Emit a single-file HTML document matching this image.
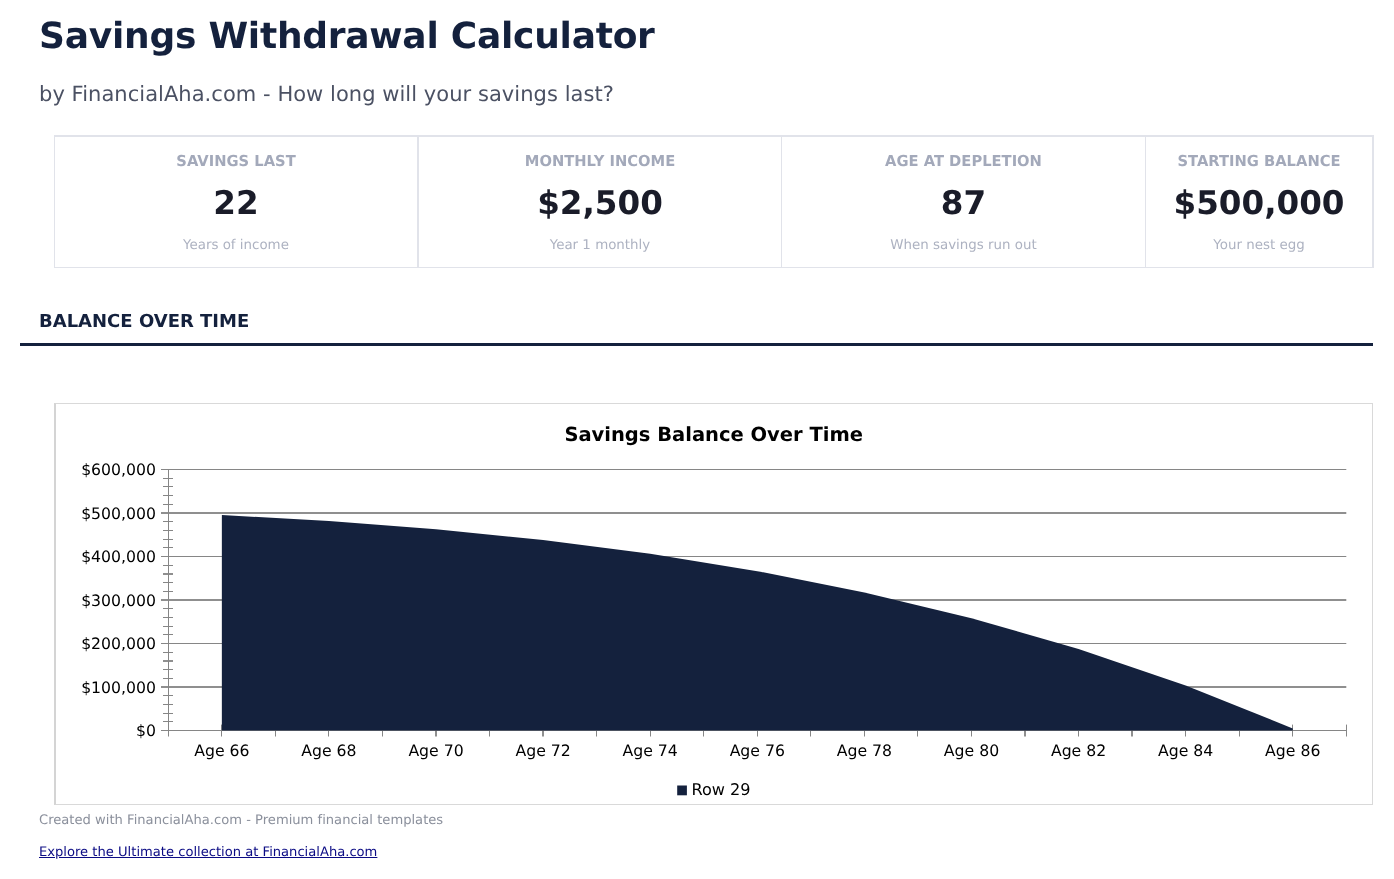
<!DOCTYPE html>
<html><head><meta charset="utf-8"><title>Savings Withdrawal Calculator</title>
<style>
html,body{margin:0;padding:0;background:#fff;}
body{text-rendering:geometricPrecision;width:1394px;height:879px;position:relative;overflow:hidden;font-family:"DejaVu Sans","Liberation Sans",sans-serif;}
.abs{position:absolute;white-space:nowrap;line-height:1;}
h1{position:absolute;margin:0;left:39px;top:15.8px;font-size:36px;line-height:42px;font-weight:bold;color:#14213d;white-space:nowrap;letter-spacing:-0.25px;}
.sub{left:39px;top:82px;font-size:21px;line-height:24px;color:#4b5163;letter-spacing:0.045px;}
.cards{position:absolute;left:54px;top:135px;width:1320px;height:133px;box-sizing:border-box;border-style:solid;border-color:#e1e3ea;border-width:2px 2px 1px 1px;}
.card{position:absolute;top:-1px;height:132px;text-align:center;}
.dv{position:absolute;top:0;height:130px;background:#e1e3ea;}
.card .l{position:absolute;left:0;right:0;top:16.6px;font-size:15.1px;line-height:17px;font-weight:bold;color:#a3a9ba;transform:scaleX(0.975);}
.card .v{position:absolute;left:0;right:0;top:47.5px;font-size:32.6px;line-height:38px;font-weight:bold;color:#1a1c29;}
.card .n{position:absolute;left:0;right:0;top:101.5px;font-size:13.4px;line-height:15px;color:#adb2c1;}
.sec{left:39px;top:311px;font-size:18px;line-height:21px;font-weight:bold;color:#14213d;}
.rule{position:absolute;left:20px;top:343px;width:1353px;height:3px;background:#14213d;}
.chart{position:absolute;left:54px;top:403px;width:1319px;height:402px;box-sizing:border-box;border:1px solid #d9d9d9;border-left:2px solid #d4d4d4;}
.foot{left:39px;top:812.7px;font-size:13.1px;line-height:16px;color:#8b909c;letter-spacing:0.01px;}
.link{left:39px;top:844.5px;font-size:13.1px;line-height:16px;color:#0b0b84;text-decoration:underline;letter-spacing:0.005px;}
svg text{text-rendering:geometricPrecision;font-family:"DejaVu Sans","Liberation Sans",sans-serif;fill:#000;}
.ax{font-size:15.7px;}
.ct{font-size:19.5px;font-weight:bold;}
</style></head><body>
<h1>Savings Withdrawal Calculator</h1>
<div class="abs sub">by FinancialAha.com - How long will your savings last?</div>
<div class="cards">
<div class="card" style="left:0px;width:362px"><div class="l">SAVINGS LAST</div><div class="v">22</div><div class="n">Years of income</div></div>
<div class="dv" style="left:362px;width:2px"></div><div class="card" style="left:364px;width:362px"><div class="l">MONTHLY INCOME</div><div class="v">$2,500</div><div class="n">Year 1 monthly</div></div>
<div class="dv" style="left:726px;width:1px"></div><div class="card" style="left:727px;width:363px"><div class="l">AGE AT DEPLETION</div><div class="v">87</div><div class="n">When savings run out</div></div>
<div class="dv" style="left:1090px;width:1px"></div><div class="card" style="left:1091px;width:226px"><div class="l">STARTING BALANCE</div><div class="v">$500,000</div><div class="n">Your nest egg</div></div>
</div>
<div class="abs sec">BALANCE OVER TIME</div>
<div class="rule"></div>
<div class="chart"></div>
<svg width="1394" height="879" viewBox="0 0 1394 879" style="position:absolute;left:0;top:0">
<rect x="161.00" y="730" width="1185.30" height="1" fill="#868686"/>
<rect x="163.00" y="721" width="10.00" height="1" fill="#868686"/>
<rect x="163.00" y="713" width="10.00" height="1" fill="#868686"/>
<rect x="163.00" y="704" width="10.00" height="1" fill="#868686"/>
<rect x="163.00" y="695" width="10.00" height="1" fill="#868686"/>
<rect x="161.00" y="686.15" width="1185.30" height="1.7" fill="#7d7d7d"/>
<rect x="163.00" y="678" width="10.00" height="1" fill="#868686"/>
<rect x="163.00" y="669" width="10.00" height="1" fill="#868686"/>
<rect x="163.00" y="660.15" width="10.00" height="1.7" fill="#7d7d7d"/>
<rect x="163.00" y="652" width="10.00" height="1" fill="#868686"/>
<rect x="161.00" y="643" width="1185.30" height="1" fill="#868686"/>
<rect x="163.00" y="634" width="10.00" height="1" fill="#868686"/>
<rect x="163.00" y="626" width="10.00" height="1" fill="#868686"/>
<rect x="163.00" y="617" width="10.00" height="1" fill="#868686"/>
<rect x="163.00" y="608" width="10.00" height="1" fill="#868686"/>
<rect x="161.00" y="599.15" width="1185.30" height="1.7" fill="#7d7d7d"/>
<rect x="163.00" y="591" width="10.00" height="1" fill="#868686"/>
<rect x="163.00" y="582" width="10.00" height="1" fill="#868686"/>
<rect x="163.00" y="573.15" width="10.00" height="1.7" fill="#7d7d7d"/>
<rect x="163.00" y="565" width="10.00" height="1" fill="#868686"/>
<rect x="161.00" y="556" width="1185.30" height="1" fill="#868686"/>
<rect x="163.00" y="547" width="10.00" height="1" fill="#868686"/>
<rect x="163.00" y="539" width="10.00" height="1" fill="#868686"/>
<rect x="163.00" y="530" width="10.00" height="1" fill="#868686"/>
<rect x="163.00" y="521" width="10.00" height="1" fill="#868686"/>
<rect x="161.00" y="512.15" width="1185.30" height="1.7" fill="#7d7d7d"/>
<rect x="163.00" y="504" width="10.00" height="1" fill="#868686"/>
<rect x="163.00" y="495" width="10.00" height="1" fill="#868686"/>
<rect x="163.00" y="486" width="10.00" height="1" fill="#868686"/>
<rect x="163.00" y="478" width="10.00" height="1" fill="#868686"/>
<rect x="161.00" y="469" width="1185.30" height="1" fill="#868686"/>
<rect x="168" y="469.00" width="1" height="267.50" fill="#868686"/>
<rect x="221" y="724.60" width="1" height="11.90" fill="#868686"/>
<rect x="275" y="724.60" width="1" height="11.90" fill="#868686"/>
<rect x="328" y="724.60" width="1" height="11.90" fill="#868686"/>
<rect x="382" y="724.60" width="1" height="11.90" fill="#868686"/>
<rect x="435.15" y="724.60" width="1.7" height="11.90" fill="#7d7d7d"/>
<rect x="489" y="724.60" width="1" height="11.90" fill="#868686"/>
<rect x="542.15" y="724.60" width="1.7" height="11.90" fill="#7d7d7d"/>
<rect x="596" y="724.60" width="1" height="11.90" fill="#868686"/>
<rect x="650" y="724.60" width="1" height="11.90" fill="#868686"/>
<rect x="703" y="724.60" width="1" height="11.90" fill="#868686"/>
<rect x="757" y="724.60" width="1" height="11.90" fill="#868686"/>
<rect x="810" y="724.60" width="1" height="11.90" fill="#868686"/>
<rect x="864" y="724.60" width="1" height="11.90" fill="#868686"/>
<rect x="917" y="724.60" width="1" height="11.90" fill="#868686"/>
<rect x="971" y="724.60" width="1" height="11.90" fill="#868686"/>
<rect x="1024.15" y="724.60" width="1.7" height="11.90" fill="#7d7d7d"/>
<rect x="1078" y="724.60" width="1" height="11.90" fill="#868686"/>
<rect x="1131.15" y="724.60" width="1.7" height="11.90" fill="#7d7d7d"/>
<rect x="1185" y="724.60" width="1" height="11.90" fill="#868686"/>
<rect x="1239" y="724.60" width="1" height="11.90" fill="#868686"/>
<rect x="1292" y="724.60" width="1" height="11.90" fill="#868686"/>
<rect x="1346" y="724.60" width="1" height="11.90" fill="#868686"/>
<path d="M221.85,730.40 L221.85,515.07 L328.94,520.96 L436.03,529.16 L543.12,540.00 L650.21,553.86 L757.30,571.19 L864.38,592.44 L971.48,618.16 L1078.57,648.94 L1185.65,685.46 L1292.74,728.45 L1292.74,730.40 Z" fill="#14213d"/>
<text x="156" y="736.00" text-anchor="end" class="ax">$0</text>
<text x="156" y="692.50" text-anchor="end" class="ax">$100,000</text>
<text x="156" y="649.00" text-anchor="end" class="ax">$200,000</text>
<text x="156" y="605.50" text-anchor="end" class="ax">$300,000</text>
<text x="156" y="562.00" text-anchor="end" class="ax">$400,000</text>
<text x="156" y="518.50" text-anchor="end" class="ax">$500,000</text>
<text x="156" y="475.00" text-anchor="end" class="ax">$600,000</text>
<text x="221.85" y="756" text-anchor="middle" class="ax">Age 66</text>
<text x="328.94" y="756" text-anchor="middle" class="ax">Age 68</text>
<text x="436.03" y="756" text-anchor="middle" class="ax">Age 70</text>
<text x="543.12" y="756" text-anchor="middle" class="ax">Age 72</text>
<text x="650.21" y="756" text-anchor="middle" class="ax">Age 74</text>
<text x="757.30" y="756" text-anchor="middle" class="ax">Age 76</text>
<text x="864.38" y="756" text-anchor="middle" class="ax">Age 78</text>
<text x="971.48" y="756" text-anchor="middle" class="ax">Age 80</text>
<text x="1078.57" y="756" text-anchor="middle" class="ax">Age 82</text>
<text x="1185.65" y="756" text-anchor="middle" class="ax">Age 84</text>
<text x="1292.74" y="756" text-anchor="middle" class="ax">Age 86</text>
<text x="713.7" y="440.8" text-anchor="middle" class="ct">Savings Balance Over Time</text>
<rect x="677.2" y="785.5" width="9.7" height="9.8" fill="#14213d"/>
<text x="691.5" y="794.6" class="ax" style="font-size:16.1px">Row 29</text>
</svg>
<div class="abs foot">Created with FinancialAha.com - Premium financial templates</div>
<a class="abs link">Explore the Ultimate collection at FinancialAha.com</a>
</body></html>
